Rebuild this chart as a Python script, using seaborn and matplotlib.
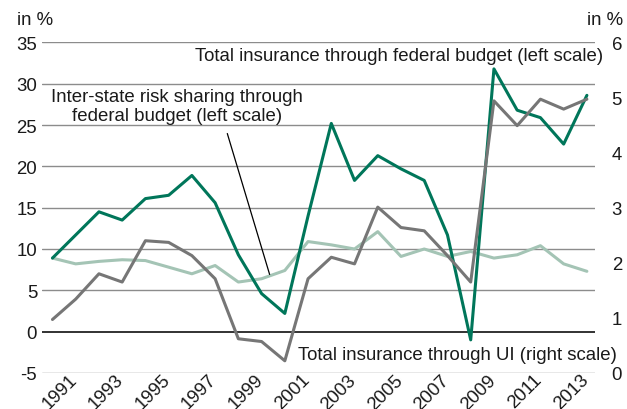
import matplotlib
matplotlib.use('Agg')
import matplotlib.pyplot as plt
import matplotlib.transforms as mtransforms
import seaborn as sns
import pandas as pd

# Values (annual, 1990-2013)
years = list(range(1990, 2014))
federal_total = [8.9, 11.7, 14.5, 13.5, 16.1, 16.5, 18.9, 15.6, 9.3, 4.6, 2.2, 14.0,
                 25.2, 18.3, 21.3, 19.7, 18.3, 11.7, -1.0, 31.8, 26.8, 25.9, 22.7, 28.6]
interstate = [8.9, 8.2, 8.5, 8.7, 8.6, 7.8, 7.0, 8.0, 6.0, 6.4, 7.4, 10.9,
              10.5, 10.0, 12.1, 9.1, 10.0, 9.1, 9.7, 8.9, 9.3, 10.4, 8.2, 7.3]
ui_total = [0.97, 1.34, 1.80, 1.65, 2.40, 2.37, 2.13, 1.71, 0.62, 0.57, 0.22, 1.71,
            2.10, 1.98, 3.01, 2.64, 2.58, 2.13, 1.65, 4.94, 4.49, 4.97, 4.79, 4.97]
tick_years = list(range(1991, 2014, 2))
left_ticks = list(range(-5, 36, 5))
right_ticks = list(range(0, 7))

df = pd.DataFrame({'year': years, 'federal': federal_total,
                   'interstate': interstate, 'ui': ui_total})

sns.set_style('white')
plt.rcParams['font.family'] = ['Liberation Sans', 'DejaVu Sans']
plt.rcParams['axes.unicode_minus'] = False

fig = plt.figure(figsize=(6.27, 4.10), dpi=100)
ax = fig.add_axes([0.067, 0.088, 0.882, 0.806])
ax2 = ax.twinx()

# grid
for v in left_ticks:
    ax.axhline(v, color='#222222' if v == 0 else '#8c8c8c',
               lw=1.3 if v == 0 else 1.0, zorder=0)

sns.lineplot(data=df, x='year', y='interstate', ax=ax, color='#a4c4b5', lw=2.2)
sns.lineplot(data=df, x='year', y='federal', ax=ax, color='#00765a', lw=2.2)
sns.lineplot(data=df, x='year', y='ui', ax=ax2, color='#767676', lw=2.2)

ax.set_xlim(1989.55, 2013.35)
ax.set_ylim(-5, 35)
ax2.set_ylim(0, 6)
ax.set_xticks(tick_years)
ax.set_xticklabels([str(y) for y in tick_years], rotation=45, ha='right')
ax.set_yticks(left_ticks)
ax2.set_yticks(right_ticks)
for a in (ax, ax2):
    a.set_xlabel('')
    a.set_ylabel('')
    for s in a.spines.values():
        s.set_visible(False)
    a.grid(False)
ax.tick_params(axis='both', length=0, labelsize=13.4, colors='#1a1a1a')
ax.tick_params(axis='y', pad=3.5)
ax.tick_params(axis='x', pad=0)
ax2.tick_params(axis='y', length=0, labelsize=13.4, colors='#1a1a1a', pad=12)

# nudge rotated year labels right/up, as in the reference
shift = mtransforms.ScaledTranslation(5 / 100, 2 / 100, fig.dpi_scale_trans)
for lbl in ax.get_xticklabels():
    lbl.set_transform(lbl.get_transform() + shift)

# annotations
fig.text(0.027, 0.949, 'in %', fontsize=13.4, ha='left', va='center', color='#1a1a1a')
fig.text(0.994, 0.949, 'in %', fontsize=13.4, ha='right', va='center', color='#1a1a1a')
ax.text(2013.7, 33.4, 'Total insurance through federal budget (left scale)',
        fontsize=13.4, ha='right', va='center', color='#1a1a1a', clip_on=False)
ax.text(1995.35, 27.3, 'Inter-state risk sharing through\nfederal budget (left scale)',
        fontsize=13.4, ha='center', va='center', multialignment='center',
        linespacing=1.1, color='#1a1a1a')
ax.annotate('', xy=(1999.38, 6.6), xytext=(1997.49, 24.3),
            arrowprops=dict(arrowstyle='-', color='black', lw=0.9))
ax.text(2000.56, -2.8, 'Total insurance through UI (right scale)',
        fontsize=13.4, ha='left', va='center', color='#1a1a1a', clip_on=False)

fig.savefig('out.png', dpi=100)
